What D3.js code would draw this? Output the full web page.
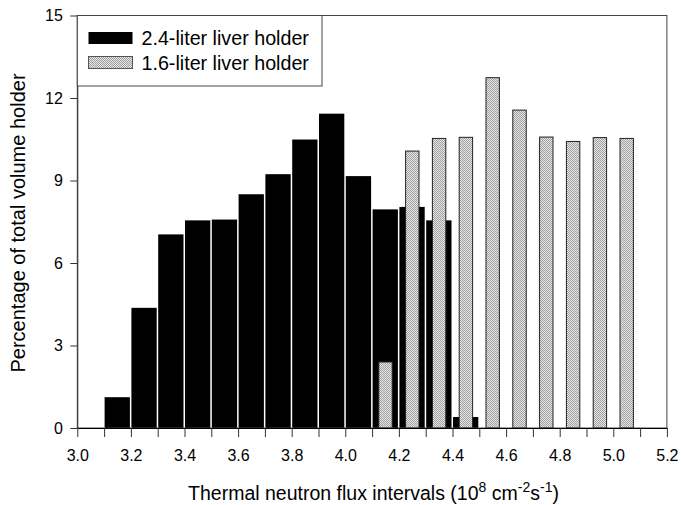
<!DOCTYPE html>
<html>
<head>
<meta charset="utf-8">
<script src="https://cdn.jsdelivr.net/npm/d3@7"></script>
<style>
  body { margin: 0; background: #fff; }
  svg text { font-family: "Liberation Sans", Arial, sans-serif; fill: #000; }
</style>
</head>
<body>
<svg id="chart" width="681" height="505"></svg>
<script>
// interval starts (10^8 cm^-2 s^-1), each interval 0.1 wide
var bins24 = [3.1, 3.2, 3.3, 3.4, 3.5, 3.6, 3.7, 3.8, 3.9, 4.0, 4.1, 4.2, 4.3, 4.4];
var values24 = [1.12, 4.37, 7.04, 7.55, 7.58, 8.5, 9.23, 10.49, 11.43, 9.16, 7.95, 8.04, 7.55, 0.4];

var bins16 = [4.1, 4.2, 4.3, 4.4, 4.5, 4.6, 4.7, 4.8, 4.9, 5.0];
var values16 = [2.4, 10.07, 10.53, 10.57, 12.74, 11.56, 10.58, 10.42, 10.56, 10.53];

var seriesNames = ["2.4-liter liver holder", "1.6-liter liver holder"];
var xTicks = d3.range(30, 53).map(function(d) { return d / 10; });
var yTicks = [0, 3, 6, 9, 12, 15];

var svg = d3.select("#chart");
var plotL = 77.3, plotR = 666.9, plotT = 15.5, plotB = 428;

var x = d3.scaleLinear().domain([3.0, 5.2]).range([plotL, plotR]);
var y = d3.scaleLinear().domain([0, 15]).range([plotB, plotT]);

// stipple pattern for the 1.6-liter bars
var defs = svg.append("defs");
var pat = defs.append("pattern")
    .attr("id", "stipple")
    .attr("width", 2).attr("height", 2)
    .attr("patternUnits", "userSpaceOnUse");
pat.append("rect").attr("width", 2).attr("height", 2).attr("fill", "#e6e6e6");
pat.append("rect").attr("width", 1).attr("height", 1).attr("fill", "#a0a0a0");
pat.append("rect").attr("x", 1).attr("y", 1).attr("width", 1).attr("height", 1).attr("fill", "#a0a0a0");

// black bars (2.4-liter)
svg.append("g").selectAll("rect")
  .data(bins24)
  .enter().append("rect")
    .attr("x", function(d) { return x(d) + 0.5; })
    .attr("width", function(d) { return x(d + 0.1) - x(d) - 1.5; })
    .attr("y", function(d, i) { return y(values24[i]); })
    .attr("height", function(d, i) { return y(0) - y(values24[i]); })
    .attr("fill", "#000");

// stippled bars (1.6-liter), half width, centred in interval
svg.append("g").selectAll("rect")
  .data(bins16)
  .enter().append("rect")
    .attr("x", function(d) { return x(d + 0.025); })
    .attr("width", function(d) { return x(d + 0.075) - x(d + 0.025); })
    .attr("y", function(d, i) { return y(values16[i]); })
    .attr("height", function(d, i) { return y(0) - y(values16[i]); })
    .attr("fill", "url(#stipple)")
    .attr("stroke", "#222")
    .attr("stroke-width", 1);

// frame
svg.append("rect")
  .attr("x", plotL).attr("y", plotT)
  .attr("width", plotR - plotL).attr("height", plotB - plotT)
  .attr("fill", "none").attr("stroke", "#444").attr("stroke-width", 1);

// x axis
var xAxis = d3.axisBottom(x)
  .tickValues(xTicks)
  .tickSizeInner(9).tickSizeOuter(0)
  .tickFormat(function(d, i) { return i % 2 === 0 ? d3.format(".1f")(d) : ""; });
var gx = svg.append("g").attr("transform", "translate(0," + plotB + ")").call(xAxis)
  .attr("font-size", 16).attr("font-family", "Liberation Sans, Arial, sans-serif");
gx.select(".domain").attr("stroke", "#000");
gx.selectAll(".tick line").attr("stroke", "#333");
gx.selectAll(".tick text").attr("dy", "1.3em");

// y axis
var yAxis = d3.axisLeft(y).tickValues(yTicks).tickSizeInner(7).tickSizeOuter(0);
var gy = svg.append("g").attr("transform", "translate(" + plotL + ",0)").call(yAxis)
  .attr("font-size", 16).attr("font-family", "Liberation Sans, Arial, sans-serif");
gy.select(".domain").attr("stroke", "#333");
gy.selectAll(".tick line").attr("stroke", "#333");
gy.selectAll(".tick text").attr("x", -14.5);

// axis titles
svg.append("text")
  .attr("transform", "translate(25," + 223 + ") rotate(-90)")
  .attr("text-anchor", "middle")
  .attr("font-size", 20)
  .text("Percentage of total volume holder");

var xt = svg.append("text")
  .attr("x", 373.5).attr("y", 500)
  .attr("text-anchor", "middle")
  .attr("font-size", 19.5);
xt.append("tspan").text("Thermal neutron flux intervals (10");
xt.append("tspan").attr("dy", -8).attr("font-size", 14).text("8");
xt.append("tspan").attr("dy", 8).text(" cm");
xt.append("tspan").attr("dy", -8).attr("font-size", 14).text("-2");
xt.append("tspan").attr("dy", 8).text("s");
xt.append("tspan").attr("dy", -8).attr("font-size", 14).text("-1");
xt.append("tspan").attr("dy", 8).text(")");

// legend
var legend = svg.append("g");
legend.append("rect")
  .attr("x", plotL).attr("y", plotT)
  .attr("width", 322 - plotL).attr("height", 86 - plotT)
  .attr("fill", "#fff").attr("stroke", "#444").attr("stroke-width", 1);
var fills = ["#000", "url(#stipple)"];
seriesNames.forEach(function(name, i) {
  var yy = 32 + i * 24.5;
  legend.append("rect")
    .attr("x", 88.5).attr("y", yy)
    .attr("width", 44).attr("height", 12)
    .attr("fill", fills[i])
    .attr("stroke", i === 1 ? "#555" : "none");
  legend.append("text")
    .attr("x", 141.5).attr("y", yy + 13)
    .attr("font-size", 19.7)
    .text(name);
});
</script>
</body>
</html>
